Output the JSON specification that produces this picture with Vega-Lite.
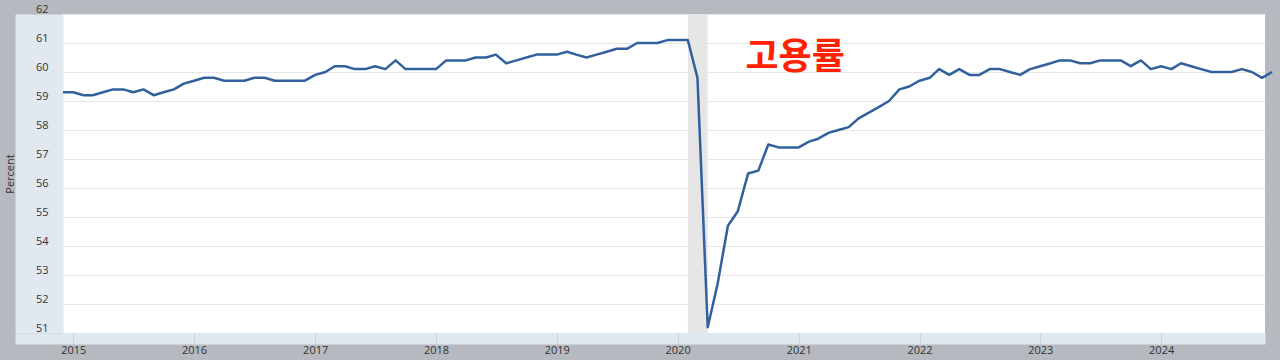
{
  "$schema": "https://vega.github.io/schema/vega-lite/v6.json",
  "width": 1202,
  "height": 319,
  "autosize": {"type": "none"},
  "padding": {"left": 63, "top": 14, "right": 15, "bottom": 27},
  "background": "#b6b9bf",
  "view": {"fill": "#ffffff", "stroke": null},
  "config": {"font": "Open Sans", "axis": {"labelFont": "Open Sans", "titleFont": "Open Sans"}},
  "resolve": {"scale": {"x": "independent", "y": "independent"}, "axis": {"x": "independent", "y": "independent"}},
  "layer": [
    {
      "data": {"values": [{"start": "2020-02-01", "end": "2020-04-01"}]},
      "mark": {"type": "rect", "color": "#e6e6e6"},
      "encoding": {
        "x": {
          "field": "start", "type": "temporal", "title": null,
          "scale": {"type": "utc", "nice": false, "range": [-48, 1202],
            "domain": [1404861212864, 1731183794490]},
          "axis": {
            "orient": "bottom", "zindex": 0,
            "offset": 5.5, "domainWidth": 11, "domainColor": "#e1e8f0", "domainCap": "butt",
            "ticks": false, "labels": false, "grid": false
          }
        },
        "x2": {"field": "end"}
      }
    },
    {
      "data": {"values": [
        {"date": "2014-12-01", "value": 59.3},
        {"date": "2015-01-01", "value": 59.3},
        {"date": "2015-02-01", "value": 59.2},
        {"date": "2015-03-01", "value": 59.2},
        {"date": "2015-04-01", "value": 59.3},
        {"date": "2015-05-01", "value": 59.4},
        {"date": "2015-06-01", "value": 59.4},
        {"date": "2015-07-01", "value": 59.3},
        {"date": "2015-08-01", "value": 59.4},
        {"date": "2015-09-01", "value": 59.2},
        {"date": "2015-10-01", "value": 59.3},
        {"date": "2015-11-01", "value": 59.4},
        {"date": "2015-12-01", "value": 59.6},
        {"date": "2016-01-01", "value": 59.7},
        {"date": "2016-02-01", "value": 59.8},
        {"date": "2016-03-01", "value": 59.8},
        {"date": "2016-04-01", "value": 59.7},
        {"date": "2016-05-01", "value": 59.7},
        {"date": "2016-06-01", "value": 59.7},
        {"date": "2016-07-01", "value": 59.8},
        {"date": "2016-08-01", "value": 59.8},
        {"date": "2016-09-01", "value": 59.7},
        {"date": "2016-10-01", "value": 59.7},
        {"date": "2016-11-01", "value": 59.7},
        {"date": "2016-12-01", "value": 59.7},
        {"date": "2017-01-01", "value": 59.9},
        {"date": "2017-02-01", "value": 60.0},
        {"date": "2017-03-01", "value": 60.2},
        {"date": "2017-04-01", "value": 60.2},
        {"date": "2017-05-01", "value": 60.1},
        {"date": "2017-06-01", "value": 60.1},
        {"date": "2017-07-01", "value": 60.2},
        {"date": "2017-08-01", "value": 60.1},
        {"date": "2017-09-01", "value": 60.4},
        {"date": "2017-10-01", "value": 60.1},
        {"date": "2017-11-01", "value": 60.1},
        {"date": "2017-12-01", "value": 60.1},
        {"date": "2018-01-01", "value": 60.1},
        {"date": "2018-02-01", "value": 60.4},
        {"date": "2018-03-01", "value": 60.4},
        {"date": "2018-04-01", "value": 60.4},
        {"date": "2018-05-01", "value": 60.5},
        {"date": "2018-06-01", "value": 60.5},
        {"date": "2018-07-01", "value": 60.6},
        {"date": "2018-08-01", "value": 60.3},
        {"date": "2018-09-01", "value": 60.4},
        {"date": "2018-10-01", "value": 60.5},
        {"date": "2018-11-01", "value": 60.6},
        {"date": "2018-12-01", "value": 60.6},
        {"date": "2019-01-01", "value": 60.6},
        {"date": "2019-02-01", "value": 60.7},
        {"date": "2019-03-01", "value": 60.6},
        {"date": "2019-04-01", "value": 60.5},
        {"date": "2019-05-01", "value": 60.6},
        {"date": "2019-06-01", "value": 60.7},
        {"date": "2019-07-01", "value": 60.8},
        {"date": "2019-08-01", "value": 60.8},
        {"date": "2019-09-01", "value": 61.0},
        {"date": "2019-10-01", "value": 61.0},
        {"date": "2019-11-01", "value": 61.0},
        {"date": "2019-12-01", "value": 61.1},
        {"date": "2020-01-01", "value": 61.1},
        {"date": "2020-02-01", "value": 61.1},
        {"date": "2020-03-01", "value": 59.8},
        {"date": "2020-04-01", "value": 51.2},
        {"date": "2020-05-01", "value": 52.7},
        {"date": "2020-06-01", "value": 54.7},
        {"date": "2020-07-01", "value": 55.2},
        {"date": "2020-08-01", "value": 56.5},
        {"date": "2020-09-01", "value": 56.6},
        {"date": "2020-10-01", "value": 57.5},
        {"date": "2020-11-01", "value": 57.4},
        {"date": "2020-12-01", "value": 57.4},
        {"date": "2021-01-01", "value": 57.4},
        {"date": "2021-02-01", "value": 57.6},
        {"date": "2021-03-01", "value": 57.7},
        {"date": "2021-04-01", "value": 57.9},
        {"date": "2021-05-01", "value": 58.0},
        {"date": "2021-06-01", "value": 58.1},
        {"date": "2021-07-01", "value": 58.4},
        {"date": "2021-08-01", "value": 58.6},
        {"date": "2021-09-01", "value": 58.8},
        {"date": "2021-10-01", "value": 59.0},
        {"date": "2021-11-01", "value": 59.4},
        {"date": "2021-12-01", "value": 59.5},
        {"date": "2022-01-01", "value": 59.7},
        {"date": "2022-02-01", "value": 59.8},
        {"date": "2022-03-01", "value": 60.1},
        {"date": "2022-04-01", "value": 59.9},
        {"date": "2022-05-01", "value": 60.1},
        {"date": "2022-06-01", "value": 59.9},
        {"date": "2022-07-01", "value": 59.9},
        {"date": "2022-08-01", "value": 60.1},
        {"date": "2022-09-01", "value": 60.1},
        {"date": "2022-10-01", "value": 60.0},
        {"date": "2022-11-01", "value": 59.9},
        {"date": "2022-12-01", "value": 60.1},
        {"date": "2023-01-01", "value": 60.2},
        {"date": "2023-02-01", "value": 60.3},
        {"date": "2023-03-01", "value": 60.4},
        {"date": "2023-04-01", "value": 60.4},
        {"date": "2023-05-01", "value": 60.3},
        {"date": "2023-06-01", "value": 60.3},
        {"date": "2023-07-01", "value": 60.4},
        {"date": "2023-08-01", "value": 60.4},
        {"date": "2023-09-01", "value": 60.4},
        {"date": "2023-10-01", "value": 60.2},
        {"date": "2023-11-01", "value": 60.4},
        {"date": "2023-12-01", "value": 60.1},
        {"date": "2024-01-01", "value": 60.2},
        {"date": "2024-02-01", "value": 60.1},
        {"date": "2024-03-01", "value": 60.3},
        {"date": "2024-04-01", "value": 60.2},
        {"date": "2024-05-01", "value": 60.1},
        {"date": "2024-06-01", "value": 60.0},
        {"date": "2024-07-01", "value": 60.0},
        {"date": "2024-08-01", "value": 60.0},
        {"date": "2024-09-01", "value": 60.1},
        {"date": "2024-10-01", "value": 60.0},
        {"date": "2024-11-01", "value": 59.8},
        {"date": "2024-12-01", "value": 60.0}
      ]},
      "mark": {"type": "line", "color": "#31609c", "strokeWidth": 2.5, "strokeJoin": "round", "clip": false},
      "encoding": {
        "x": {
          "field": "date", "type": "temporal", "title": null,
          "scale": {"type": "utc", "nice": false, "range": [0, 1209],
            "domain": [{"year": 2014, "month": 12, "date": 1, "utc": true}, {"year": 2024, "month": 12, "date": 1, "utc": true}]},
          "axis": {
            "orient": "bottom", "zindex": 1,
            "format": "%Y", "tickCount": {"interval": "year", "step": 1},
            "domain": false,
            "ticks": true, "tickSize": 11, "tickColor": "#c8d2e0", "tickWidth": 1,
            "labelPadding": 0.5, "labelBaseline": "top", "labelFontSize": 11, "labelColor": "#333333",
            "grid": false, "labelFlush": false, "labelOverlap": false
          }
        },
        "y": {
          "field": "value", "type": "quantitative", "title": "Percent",
          "scale": {"domain": [51, 62], "nice": false, "zero": false},
          "axis": {
            "orient": "left", "zindex": 1,
            "values": [51, 52, 53, 54, 55, 56, 57, 58, 59, 60, 61, 62],
            "offset": 24, "domain": false,
            "ticks": false, "tickSize": 0, "labelPadding": -9, "labelOffset": -5, "labelBound": false,
            "labelFontSize": 11, "labelColor": "#333333", "labelOverlap": false,
            "grid": false,
            "titleX": -29, "titleY": 159.5, "titleAngle": -90, "titleAlign": "center", "titleBaseline": "middle",
            "titleFontSize": 11, "titleFontWeight": "normal", "titleColor": "#333333"
          }
        }
      }
    },
    {
      "data": {"values": [{"label": "고용률"}]},
      "mark": {"type": "text", "font": "Noto Sans CJK KR", "fontWeight": "bold", "fontSize": 36, "color": "#ff2200", "align": "center", "baseline": "middle"},
      "encoding": {
        "text": {"field": "label"},
        "x": {
          "datum": {"year": 2021, "month": 1, "date": 3, "utc": true}, "type": "temporal", "title": null,
          "scale": {"type": "utc", "nice": false, "range": [0, 1202],
            "domain": [{"year": 2014, "month": 12, "date": 1, "utc": true}, {"year": 2024, "month": 12, "date": 1, "utc": true}]},
          "axis": null
        },
        "y": {
          "datum": 60.47, "type": "quantitative", "title": null,
          "scale": {"domain": [51, 62], "nice": false, "zero": false},
          "axis": {
            "orient": "left", "zindex": 0,
            "values": [51, 52, 53, 54, 55, 56, 57, 58, 59, 60, 61, 62],
            "offset": 24, "domainWidth": 48, "domainColor": "#e1e8f0", "domainCap": "butt",
            "ticks": false, "labels": false,
            "grid": true, "gridColor": "#e6e6e6", "gridWidth": 1
          }
        }
      }
    }
  ]
}
